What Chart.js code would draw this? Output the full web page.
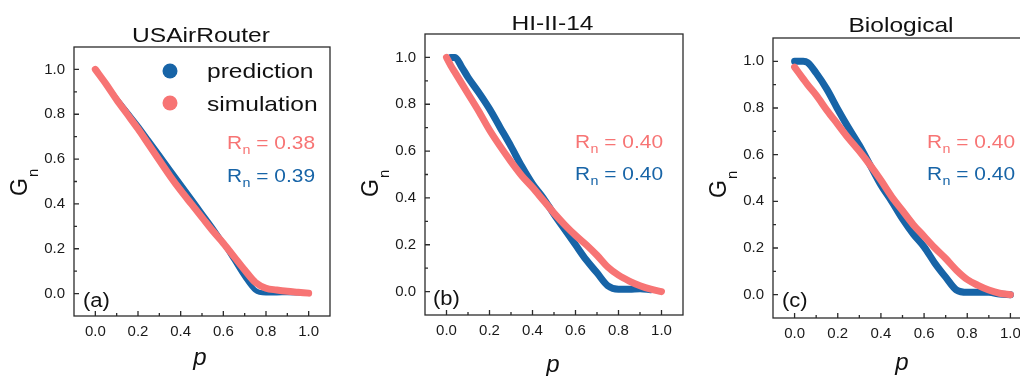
<!DOCTYPE html>
<html>
<head>
<meta charset="utf-8">
<script src="https://cdn.jsdelivr.net/npm/chart.js@4/dist/chart.umd.min.js"></script>
<style>
	body { margin: 0; width: 1020px; height: 376px; overflow: hidden; background: #fff; position: relative; }
	canvas { position: absolute; top: 0; }
</style>
</head>
<body>
<canvas id="chartA" width="340" height="376" style="left:0px"></canvas>
<canvas id="chartB" width="345" height="376" style="left:340px"></canvas>
<canvas id="chartC" width="360" height="376" style="left:680px"></canvas>
<script>
// (a) USAirRouter
const pA = [0, 0.05, 0.1, 0.15, 0.2, 0.25, 0.3, 0.35, 0.4, 0.45, 0.5, 0.55, 0.6, 0.65, 0.7, 0.75, 0.8, 0.85, 0.9, 0.95, 1.0]
const predA = [1.0, 0.935, 0.87, 0.81, 0.75, 0.685, 0.62, 0.555, 0.49, 0.425, 0.36, 0.295, 0.225, 0.15, 0.075, 0.015, 0.003, 0.003, 0.004, 0.003, 0.001]
const simA = [1.0, 0.935, 0.865, 0.8, 0.735, 0.665, 0.595, 0.525, 0.46, 0.4, 0.34, 0.28, 0.225, 0.165, 0.105, 0.05, 0.024, 0.016, 0.01, 0.006, 0.002]

// (b) HI-II-14
const pB = [0, 0.02, 0.04, 0.07, 0.1, 0.15, 0.2, 0.25, 0.3, 0.35, 0.4, 0.45, 0.5, 0.55, 0.6, 0.65, 0.7, 0.75, 0.8, 0.85, 0.9, 0.95, 1.0]
const predB = [null, 1.0, 1.0, 0.96, 0.915, 0.85, 0.78, 0.7, 0.62, 0.535, 0.46, 0.4, 0.33, 0.265, 0.2, 0.135, 0.08, 0.025, 0.01, 0.01, 0.012, 0.008, null]
const simB = [1.0, 0.965, 0.935, 0.89, 0.845, 0.77, 0.69, 0.62, 0.555, 0.495, 0.445, 0.39, 0.335, 0.285, 0.24, 0.2, 0.155, 0.105, 0.07, 0.045, 0.025, 0.01, 0.0]

// (c) Biological
const pC = [0, 0.02, 0.04, 0.06, 0.1, 0.15, 0.2, 0.25, 0.3, 0.35, 0.4, 0.45, 0.5, 0.55, 0.6, 0.65, 0.7, 0.75, 0.8, 0.85, 0.9, 0.95, 1.0]
const predC = [1.0, 1.0, 1.0, 0.995, 0.95, 0.88, 0.795, 0.715, 0.64, 0.555, 0.47, 0.4, 0.325, 0.26, 0.205, 0.135, 0.075, 0.02, 0.01, 0.01, 0.01, 0.003, 0.0]
const simC = [0.975, 0.95, 0.925, 0.9, 0.855, 0.79, 0.73, 0.67, 0.615, 0.555, 0.49, 0.42, 0.36, 0.3, 0.25, 0.2, 0.155, 0.105, 0.065, 0.04, 0.02, 0.006, 0.0]

const majorTicks = [0, 0.2, 0.4, 0.6, 0.8, 1.0]
const minorTicks = [0.1, 0.3, 0.5, 0.7, 0.9]

const FONT = '"Liberation Sans", Arial, sans-serif'
const BLUE = '#1764a7'
const SALMON = '#f77474'

function wideText(ctx, text, x, y, sx) {
	ctx.save()
	ctx.translate(x, y)
	ctx.scale(sx, 1)
	ctx.fillText(text, 0, 0)
	ctx.restore()
	return ctx.measureText(text).width * sx
}

function drawRn(ctx, x, y, value, color) {
	ctx.fillStyle = color
	ctx.textAlign = 'left'
	ctx.font = `19px ${FONT}`
	x += wideText(ctx, 'R', x, y, 1.1)
	ctx.font = `13px ${FONT}`
	x += wideText(ctx, 'n', x + 0.5, y + 5, 1.1) + 0.5
	ctx.font = `19px ${FONT}`
	wideText(ctx, ' = ' + value, x, y, 1.1)
}

const panelDecor = {
	id: 'panelDecor',
	afterDraw(chart, args, o) {
		const { ctx, chartArea: a } = chart
		const sx = chart.scales.x
		const sy = chart.scales.y
		ctx.save()

		// frame and inward ticks
		ctx.strokeStyle = '#2b2b2b'
		ctx.lineWidth = 1.3
		ctx.strokeRect(a.left, a.top, a.right - a.left, a.bottom - a.top)
		ctx.beginPath()
		for (const v of majorTicks.concat(minorTicks)) {
			const len = majorTicks.includes(v) ? 5 : 3
			const px = sx.getPixelForValue(v)
			ctx.moveTo(px, a.bottom)
			ctx.lineTo(px, a.bottom - len)
			const py = sy.getPixelForValue(v)
			ctx.moveTo(a.left, py)
			ctx.lineTo(a.left + len, py)
		}
		ctx.stroke()

		ctx.fillStyle = '#111'
		ctx.textBaseline = 'alphabetic'

		// panel title
		ctx.font = `21px ${FONT}`
		ctx.textAlign = 'center'
		wideText(ctx, o.title, o.titleX, o.titleY, 1.17)

		// panel letter
		ctx.textAlign = 'left'
		ctx.font = `20px ${FONT}`
		wideText(ctx, o.letter, o.letterX, o.letterY, 1.1)

		// x title
		ctx.textAlign = 'center'
		ctx.font = `italic 24px ${FONT}`
		ctx.fillText('p', o.pX, o.pY)

		// y title G_n
		ctx.save()
		ctx.translate(o.gX, o.gY)
		ctx.rotate(-Math.PI / 2)
		ctx.textAlign = 'left'
		ctx.font = `23px ${FONT}`
		const gw = ctx.measureText('G').width
		ctx.fillText('G', -gw / 2, 8)
		ctx.font = `15px ${FONT}`
		ctx.fillText('n', gw / 2 + 1, 19)
		ctx.restore()

		drawRn(ctx, o.rX, o.rY1, o.rSim, SALMON)
		drawRn(ctx, o.rX, o.rY2, o.rPred, BLUE)

		if (o.legend) {
			const items = [['prediction', BLUE, 71, 78], ['simulation', SALMON, 103, 111]]
			for (const [name, color, cy, base] of items) {
				ctx.fillStyle = color
				ctx.beginPath()
				ctx.arc(170, cy, 7.5, 0, Math.PI * 2)
				ctx.fill()
				ctx.fillStyle = '#111'
				ctx.font = `21px ${FONT}`
				ctx.textAlign = 'left'
				wideText(ctx, name, 207, base, 1.17)
			}
		}
		ctx.restore()
	},
}

function toPoints(ps, gs) {
	return ps.map((p, i) => ({ x: p, y: gs[i] }))
}

function makePanel(id, ps, pred, sim, lw, box, decor) {
	const ctx = document.getElementById(id).getContext('2d')
	return new Chart(ctx, {
		type: 'line',
		data: {
			datasets: [
				{
					label: 'prediction',
					data: toPoints(ps, pred),
					borderColor: BLUE,
					borderWidth: lw[0],
					pointRadius: 0,
					borderCapStyle: 'round',
					borderJoinStyle: 'round',
					cubicInterpolationMode: 'monotone',
					order: 1,
				},
				{
					label: 'simulation',
					data: toPoints(ps, sim),
					borderColor: SALMON,
					borderWidth: lw[1],
					pointRadius: 0,
					borderCapStyle: 'round',
					borderJoinStyle: 'round',
					cubicInterpolationMode: 'monotone',
					order: 0,
				},
			],
		},
		options: {
			responsive: false,
			animation: false,
			devicePixelRatio: 1,
			layout: { padding: { top: box.top, right: box.right, left: 0, bottom: 0 } },
			plugins: {
				legend: { display: false },
				tooltip: { enabled: false },
				panelDecor: decor,
			},
			scales: {
				x: {
					type: 'linear',
					min: -0.1,
					max: 1.1,
					afterBuildTicks: s => { s.ticks = majorTicks.map(v => ({ value: v })) },
					afterFit: s => { s.height = box.xh },
					grid: { display: false, drawTicks: false },
					border: { display: false },
					ticks: { padding: 7, color: '#1a1a1a', font: { family: FONT, size: 15 }, callback: v => v.toFixed(1), maxRotation: 0 },
				},
				y: {
					type: 'linear',
					min: -0.1,
					max: 1.1,
					afterBuildTicks: s => { s.ticks = majorTicks.map(v => ({ value: v })) },
					afterFit: s => { s.width = box.yw },
					grid: { display: false, drawTicks: false },
					border: { display: false },
					ticks: { padding: 9, color: '#1a1a1a', font: { family: FONT, size: 15 }, callback: v => v.toFixed(1) },
				},
			},
		},
		plugins: [panelDecor],
	})
}

makePanel('chartA', pA, predA, simA, [5, 7], { top: 47, right: 10, yw: 74, xh: 60 }, {
	title: 'USAirRouter', titleX: 201, titleY: 42,
	letter: '(a)', letterX: 83, letterY: 307,
	pX: 200, pY: 365, gX: 19, gY: 187,
	rX: 227, rY1: 149, rY2: 182, rSim: '0.38', rPred: '0.39',
	legend: true,
})

makePanel('chartB', pB, predB, simB, [7, 7], { top: 34, right: 2, yw: 85, xh: 61 }, {
	title: 'HI-II-14', titleX: 212.5, titleY: 30,
	letter: '(b)', letterX: 93, letterY: 305,
	pX: 213, pY: 372, gX: 30, gY: 188,
	rX: 235, rY1: 148, rY2: 180, rSim: '0.40', rPred: '0.40',
	legend: false,
})

makePanel('chartC', pC, predC, simC, [7, 7], { top: 38, right: 8, yw: 93, xh: 58 }, {
	title: 'Biological', titleX: 221, titleY: 31.5,
	letter: '(c)', letterX: 102, letterY: 307,
	pX: 222, pY: 370, gX: 38, gY: 189,
	rX: 247, rY1: 148, rY2: 180, rSim: '0.40', rPred: '0.40',
	legend: false,
})
</script>
</body>
</html>
